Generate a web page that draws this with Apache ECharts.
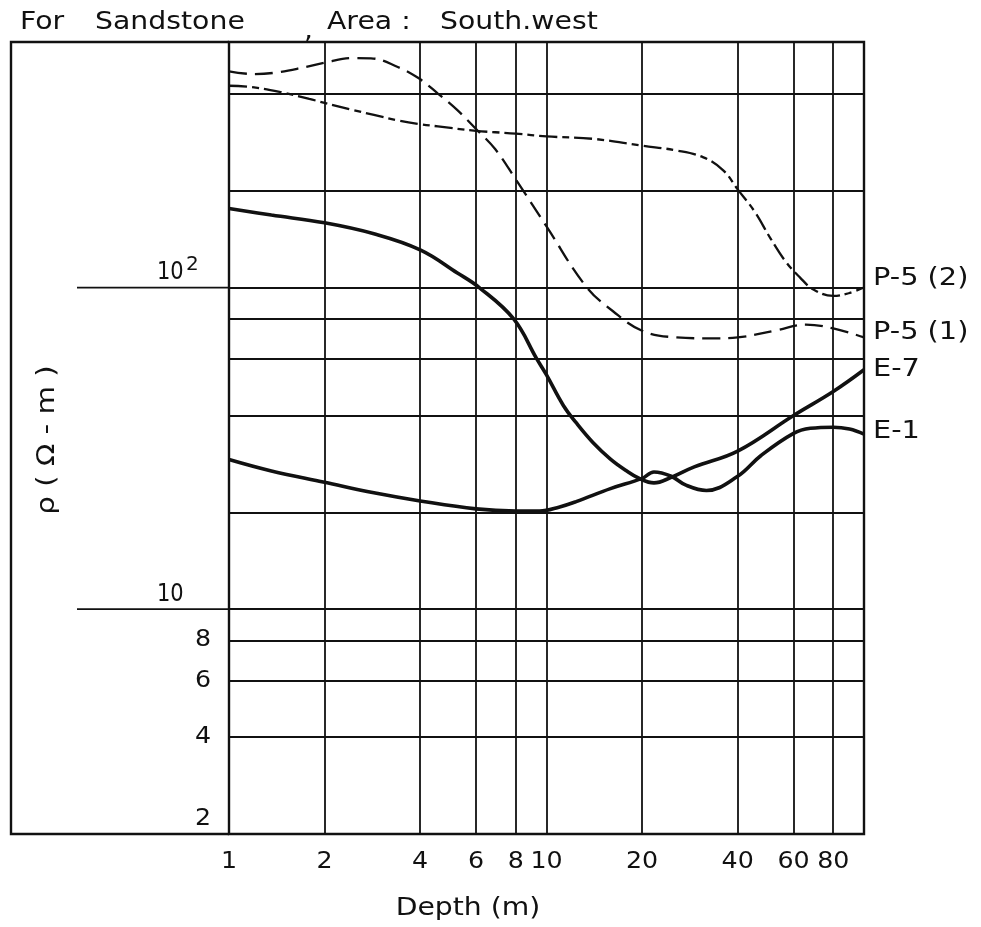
<!DOCTYPE html>
<html>
<head>
<meta charset="utf-8">
<script src="https://cdn.jsdelivr.net/npm/echarts@6/dist/echarts.min.js"></script>
<style>
  html, body { margin: 0; padding: 0; background: #ffffff; }
  #chart { width: 981px; height: 927px; }
</style>
</head>
<body>
<div id="chart"></div>
<script>
// Apparent resistivity (ohm-m) against depth (m), sandstone, south-west area.

// P-5 (2)
const p52Depth = [1, 1.2, 1.46, 1.79, 2, 2.47, 2.86, 3.4, 4, 4.55, 6, 6.9, 8, 10, 14, 20, 25.6, 31.2, 36.1, 40, 45.1, 50.8, 56.8, 62.8, 69.3, 80, 89.4, 100];
const p52Rho   = [424, 419, 405, 386, 375, 356, 344, 331, 322, 317, 307, 304, 301, 295, 290, 276, 267, 254, 231, 202, 173, 142, 120, 107.6, 98.6, 94.2, 96, 100];

// P-5 (1)
const p51Depth = [1, 1.2, 1.43, 1.74, 2, 2.47, 2.8, 3.4, 3.95, 4.55, 5.24, 6, 6.9, 8, 10, 13.3, 16.2, 20, 25.6, 32.8, 40, 52.9, 65.6, 80, 100];
const p51Rho   = [470, 461, 467, 485, 500, 517, 516, 485, 448, 401, 356, 311, 269, 217, 155, 101, 84.4, 73.4, 70, 69.5, 70, 73.6, 76.7, 74.6, 70];

// E-7
const e7Depth = [1, 1.36, 2, 2.86, 4, 5.24, 6.14, 7.87, 9.32, 10, 11.3, 12.4, 14, 15.9, 17.8, 19.6, 21.8, 24.7, 29.2, 40, 60, 80, 100];
const e7Rho   = [176, 168, 159, 147, 131, 111, 100, 80, 60, 53.5, 43, 38, 33, 29.3, 27, 25.5, 24.7, 25.7, 27.7, 31, 40, 47.5, 55.5];

// E-1
const e1Depth = [1, 1.36, 2, 2.86, 4, 6, 8, 9.5, 11, 12.4, 15.9, 20, 21.8, 24.7, 27.5, 31.9, 40, 47.3, 60, 67.8, 80, 90, 100];
const e1Rho   = [29.2, 26.9, 24.8, 23, 21.7, 20.5, 20.2, 20.2, 20.8, 21.6, 23.7, 25.5, 26.7, 25.9, 24.3, 23.4, 25.9, 30, 35.2, 36.5, 36.8, 36.3, 35];

// Grid lines and tick labels
const xGridValues = [2, 4, 6, 8, 10, 20, 40, 60, 80];
const yGridValues = [4, 6, 8, 10, 20, 40, 60, 80, 100, 200, 400];
const xTickValues = [1, 2, 4, 6, 8, 10, 20, 40, 60, 80];
const xTickLabels = ['1', '2', '4', '6', '8', '10', '20', '40', '60', '80'];
const yDecadeValues = [10, 100];
const yDecadeBase = ['10', '10'];
const yDecadeExponent = ['', '2'];
const yMinorValues = [2, 4, 6, 8];
const yMinorLabels = ['2', '4', '6', '8'];

const FONT = 'DejaVu Sans';
const INK = '#111111';

function pairs(xs, ys) { return xs.map((x, i) => [x, ys[i]]); }

function curve(name, xs, ys, width, dash) {
  return {
    name: name,
    type: 'line',
    data: pairs(xs, ys),
    showSymbol: false,
    smooth: 0.4,
    z: 3,
    silent: true,
    lineStyle: { color: INK, width: width, type: dash },
    emphasis: { disabled: true }
  };
}

const curves = [
  curve('P-5 (2)', p52Depth, p52Rho, 2.3, [18, 5, 7, 5]),
  curve('P-5 (1)', p51Depth, p51Rho, 2.3, [18, 8]),
  curve('E-7', e7Depth, e7Rho, 3.6, 'solid'),
  curve('E-1', e1Depth, e1Rho, 3.6, 'solid')
];

const chart = echarts.init(document.getElementById('chart'), null, { renderer: 'canvas' });

chart.setOption({
  animation: false,
  backgroundColor: '#ffffff',
  grid: {
    left: 229, right: 117, top: 42, bottom: 93,
    show: true, borderColor: INK, borderWidth: 2.4, backgroundColor: 'transparent'
  },
  xAxis: {
    type: 'log', logBase: 10, min: 1, max: 100,
    axisLine: { show: false }, axisTick: { show: false },
    axisLabel: { show: false }, splitLine: { show: false }, minorSplitLine: { show: false }
  },
  yAxis: {
    type: 'log', logBase: 10, min: 2, max: 580,
    axisLine: { show: false }, axisTick: { show: false },
    axisLabel: { show: false }, splitLine: { show: false }, minorSplitLine: { show: false }
  },
  series: [
    {
      name: 'grid',
      type: 'line',
      data: [],
      z: 1,
      silent: true,
      markLine: {
        silent: true,
        symbol: ['none', 'none'],
        label: { show: false },
        lineStyle: { color: INK, width: 1.8, type: 'solid' },
        emphasis: { disabled: true },
        data: xGridValues.map(v => ({ xAxis: v })).concat(yGridValues.map(v => ({ yAxis: v })))
      }
    }
  ].concat(curves)
});

const px = v => chart.convertToPixel({ xAxisIndex: 0 }, v);
const py = v => chart.convertToPixel({ yAxisIndex: 0 }, v);

const plotLeft = px(1), plotTop = py(580), plotBottom = py(2);
const frameLeft = 11;

function txt(text, x, y, align, vAlign, size, sx, extra) {
  return Object.assign({
    type: 'text', x: x, y: y, silent: true, scaleX: sx,
    style: { text: text, fill: INK, font: size + 'px "' + FONT + '"', align: align, verticalAlign: vAlign }
  }, extra || {});
}

const graphics = [];

// outer frame around the label area
graphics.push({
  type: 'polyline', silent: true,
  shape: { points: [[plotLeft, plotTop], [frameLeft, plotTop], [frameLeft, plotBottom], [plotLeft, plotBottom]] },
  style: { stroke: INK, lineWidth: 2.4, fill: null }
});

// decade lines run out into the label area, labelled above the line
yDecadeValues.forEach((v, i) => {
  const y = py(v);
  graphics.push({
    type: 'line', silent: true,
    shape: { x1: 77, y1: y, x2: plotLeft, y2: y },
    style: { stroke: INK, lineWidth: 1.8 }
  });
  graphics.push(txt(yDecadeBase[i], 157, y - 15, 'left', 'middle', 25, 0.84));
  if (yDecadeExponent[i]) {
    graphics.push(txt(yDecadeExponent[i], 186, y - 23, 'left', 'middle', 20, 1));
  }
});

yMinorValues.forEach((v, i) => {
  const y = v === 2 ? py(v) - 15 : py(v);
  graphics.push(txt(yMinorLabels[i], 211, y, 'right', 'middle', 23, 1.1));
});

xTickValues.forEach((v, i) => {
  graphics.push(txt(xTickLabels[i], px(v), plotBottom + 28, 'center', 'middle', 23, 1.1));
});

// curve names beside the right-hand ends
const endLabelLift = { 'P-5 (2)': -9, 'P-5 (1)': -5, 'E-7': 0, 'E-1': -2 };
curves.forEach(s => {
  const last = s.data[s.data.length - 1];
  graphics.push(txt(s.name, px(last[0]) + 9, py(last[1]) + endLabelLift[s.name], 'left', 'middle', 24, 1.2));
});

// axis names
graphics.push(txt('Depth (m)', 468, 908, 'center', 'middle', 25, 1.13));
graphics.push(txt('ρ ( Ω - m )', 48, 440, 'center', 'middle', 24, 1.22, { rotation: Math.PI / 2 }));

// heading
graphics.push(txt('For', 20, 23, 'left', 'middle', 24, 1.18));
graphics.push(txt('Sandstone', 95, 23, 'left', 'middle', 24, 1.18));
graphics.push(txt(',', 304, 32, 'left', 'middle', 24, 1.18));
graphics.push(txt('Area :', 327, 23, 'left', 'middle', 24, 1.18));
graphics.push(txt('South.west', 440, 23, 'left', 'middle', 24, 1.18));

chart.setOption({ graphic: graphics });
</script>
</body>
</html>
